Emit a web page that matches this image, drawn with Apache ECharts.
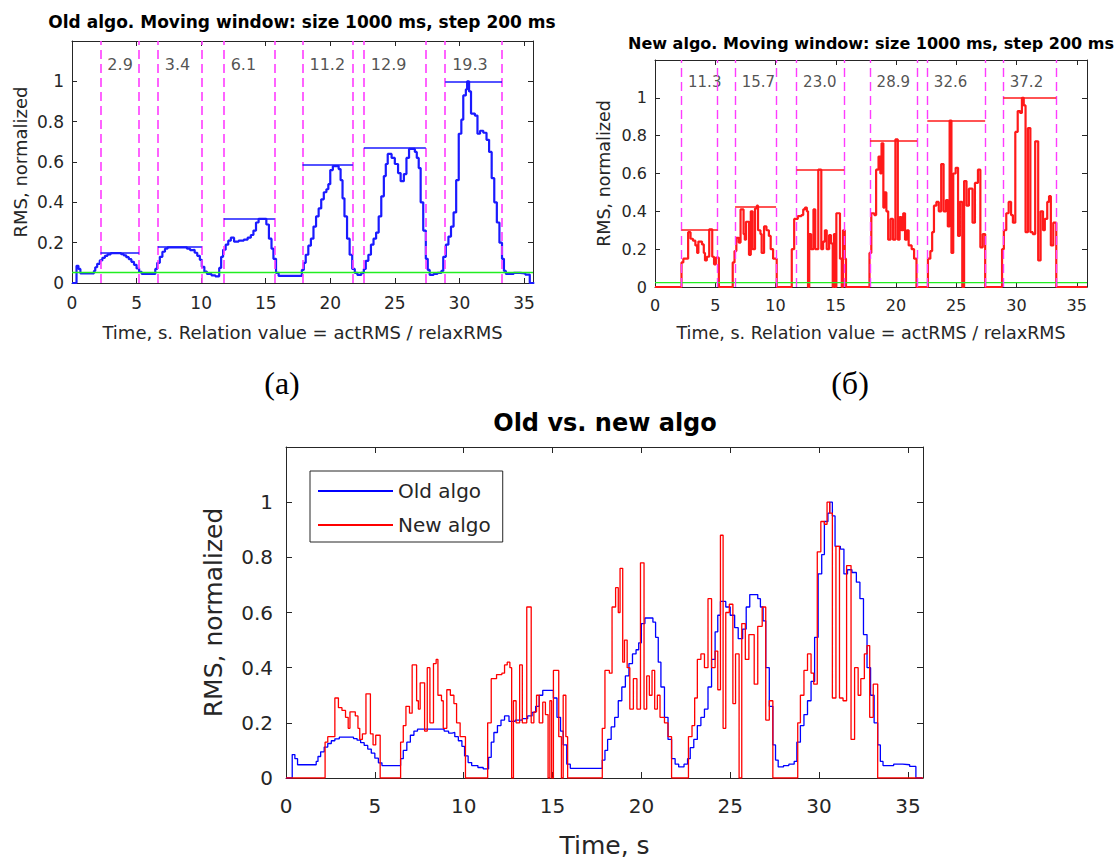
<!DOCTYPE html>
<html><head><meta charset="utf-8">
<script src="https://cdn.jsdelivr.net/npm/echarts@6/dist/echarts.min.js"></script>
<style>html,body{margin:0;padding:0;background:#fff}#c{width:1118px;height:859px}</style>
</head><body><div id="c"></div>
<script>
// ---- data ----
const oldTime = [0,0.35,0.5,0.65,1.7,1.8,1.95,2.15,2.35,2.55,
  2.75,3.0,3.8,4.0,4.2,4.4,4.6,4.8,5.0,5.2,
  5.4,6.45,6.6,6.8,7.0,7.2,7.4,8.9,9.15,9.35,
  9.5,9.7,9.9,10.05,10.25,10.45,10.8,11.1,11.4,11.55,
  11.7,11.9,12.1,12.3,12.55,12.9,13.3,13.6,13.85,14.05,
  14.25,14.45,15.05,15.25,15.45,15.6,15.8,16.0,17.8,17.95,
  18.1,18.3,18.5,18.7,18.9,19.1,19.3,19.5,19.7,19.85,
  20.0,20.2,20.65,20.8,20.95,21.1,21.3,21.5,21.7,21.9,
  22.1,22.4,22.6,22.75,22.95,23.15,23.35,23.55,23.75,23.95,
  24.15,24.3,24.45,24.75,25.0,25.25,25.45,25.7,25.9,26.1,
  26.55,26.7,26.85,27.0,27.2,27.4,27.55,27.7,28.0,28.3,
  28.6,28.75,28.95,29.15,29.35,29.55,29.75,29.95,30.15,30.3,
  30.5,30.6,30.75,30.9,31.2,31.4,31.6,31.85,32.1,32.3,
  32.5,32.7,32.9,33.1,33.3,33.45,33.6,34.2,34.7,35.1,
  35.45,35.8];
const oldRms = [0,0.085,0.07,0.048,0.06,0.078,0.095,0.112,0.125,0.135,
  0.142,0.148,0.143,0.137,0.128,0.118,0.105,0.09,0.072,0.055,
  0.045,0.07,0.1,0.13,0.155,0.17,0.177,0.17,0.163,0.165,
  0.15,0.135,0.115,0.08,0.056,0.045,0.038,0.033,0.075,0.13,
  0.165,0.19,0.21,0.225,0.205,0.21,0.215,0.225,0.238,0.26,
  0.3,0.318,0.29,0.22,0.17,0.12,0.05,0.035,0.065,0.1,
  0.14,0.185,0.22,0.28,0.33,0.37,0.415,0.45,0.465,0.49,
  0.56,0.58,0.565,0.51,0.42,0.33,0.22,0.14,0.07,0.05,
  0.04,0.05,0.07,0.11,0.14,0.19,0.22,0.25,0.33,0.43,
  0.53,0.59,0.64,0.62,0.59,0.545,0.505,0.54,0.62,0.665,
  0.65,0.62,0.57,0.4,0.26,0.12,0.065,0.04,0.045,0.05,
  0.06,0.13,0.19,0.23,0.28,0.35,0.51,0.74,0.81,0.93,
  0.96,1.0,0.95,0.84,0.83,0.74,0.755,0.745,0.71,0.65,
  0.52,0.4,0.3,0.2,0.12,0.06,0.045,0.05,0.048,0.042,
  0,0];
const newTime = [0,
  2.2,2.35,2.75,2.95,3.15,3.35,3.5,3.6,3.9,4.05,4.15,4.3,4.5,4.75,4.9,5.05,5.3,
  6.45,6.6,6.75,6.95,7.1,7.35,7.45,7.55,7.8,7.95,8.1,8.3,8.45,8.55,8.75,8.85,9.05,9.25,9.45,9.6,9.8,10.1,
  11.35,11.55,11.85,12.15,12.3,12.45,12.6,12.7,12.8,12.95,13.15,13.3,13.55,13.8,13.95,14.1,14.25,14.45,14.6,14.75,14.85,14.95,15.05,15.35,15.5,15.6,15.75,15.85,
  17.8,17.95,18.2,18.35,18.55,18.7,18.8,18.95,19.05,19.2,19.35,19.55,19.75,19.95,20.15,20.3,20.45,20.6,20.75,20.9,21.05,21.3,21.5,21.7,
  22.65,22.85,23.0,23.15,23.35,23.55,23.75,23.95,24.15,24.3,24.45,24.6,24.75,24.95,25.15,25.3,25.5,25.65,25.85,26.05,26.35,26.55,26.8,27.0,27.2,27.4,
  28.8,28.95,29.15,29.35,29.55,29.7,29.9,30.1,30.3,30.45,30.6,30.75,30.95,31.15,31.35,31.55,31.8,32.0,32.2,32.35,32.55,32.7,32.85,33.05,33.3,
  35.85];
const newRms = [0,
  0.13,0.15,0.29,0.255,0.245,0.22,0.18,0.24,0.225,0.18,0.14,0.16,0.305,0.16,0.12,0.155,0,
  0.13,0.19,0.26,0.235,0.41,0.28,0.25,0.345,0.17,0.4,0.2,0.415,0.43,0.3,0.28,0.18,0.32,0.3,0.27,0.2,0.15,0,
  0.2,0.36,0.375,0.38,0.41,0.42,0.4,0,0.28,0.2,0.41,0.2,0.62,0.2,0.24,0.3,0.2,0.275,0.23,0,0.28,0,0.39,0.15,0,0.3,0.15,0,
  0.18,0.39,0.38,0.62,0.69,0.6,0.76,0.42,0.5,0.4,0.25,0.36,0.25,0.78,0.25,0.37,0.3,0.39,0.25,0.3,0.22,0.2,0.15,0,
  0.15,0.19,0.29,0.43,0.45,0.4,0.65,0.4,0.46,0.32,0.88,0.18,0.6,0.63,0.27,0.45,0,0.56,0.43,0.52,0.34,0.55,0.62,0.21,0.28,0,
  0.2,0.3,0.39,0.45,0.38,0.34,0.82,0.93,0.92,1.0,0.96,0.29,0.84,0.29,0.28,0.77,0.14,0.4,0.3,0.36,0.45,0.48,0.22,0.34,0,
  0];
const segBounds = [2.2,5.2,6.65,10.05,11.75,15.7,17.85,21.75,22.6,27.4,28.9,33.3];
const oldSegMax = [0.149,0.182,0.319,0.585,0.673,1.0];
const newSegMax = [0.302,0.425,0.618,0.775,0.877,1.0];
const oldRatio = ['2.9','3.4','6.1','11.2','12.9','19.3'];
const newRatio = ['11.3','15.7','23.0','28.9','32.6','37.2'];
const oldThreshold = 0.052;
const newThreshold = 0.023;
const ratioLabelY = 1.085;

// ---- chart ----
const FONT = 'DejaVu Sans';
const AX = '#262626';
const chart = echarts.init(document.getElementById('c'), null, {renderer:'svg'});
const grid = [], xAxis = [], yAxis = [], series = [];

function addPanel(g, xmax, o){
  const gi = grid.length;
  grid.push(g);
  const line = {show:true, onZero:false, lineStyle:{color:AX, width:1}};
  const tick = {show:true, inside:true, length:o.tick, lineStyle:{color:AX, width:1}};
  const nameStyle = {fontFamily:FONT, fontSize:o.nameFs, color:AX};
  xAxis.push({gridIndex:gi, type:'value', min:0, max:xmax, interval:5, position:'bottom',
    axisLine:line, axisTick:tick, splitLine:{show:false},
    axisLabel:{fontFamily:FONT, fontSize:o.fs, color:AX, margin:o.xm,
      formatter:v => Math.abs(v % 5) < 1e-6 ? String(v) : ''},
    name:o.xName, nameLocation:'middle', nameGap:o.xGap, nameTextStyle:nameStyle});
  xAxis.push({gridIndex:gi, type:'value', min:0, max:xmax, interval:5, position:'top',
    axisLine:line, axisTick:tick, splitLine:{show:false}, axisLabel:{show:false}});
  yAxis.push({gridIndex:gi, type:'value', min:0, max:1.2, interval:0.2, position:'left',
    axisLine:line, axisTick:tick, splitLine:{show:false},
    axisLabel:{fontFamily:FONT, fontSize:o.fs, color:AX, margin:o.ym,
      formatter:v => v > 1.001 ? '' : String(Math.round(v*10)/10)},
    name:o.yName, nameLocation:'middle', nameGap:o.yGap, nameTextStyle:nameStyle});
  yAxis.push({gridIndex:gi, type:'value', min:0, max:1.2, interval:0.2, position:'right',
    axisLine:line, axisTick:tick, splitLine:{show:false}, axisLabel:{show:false}});
  return 2*gi;
}

function topPanel(ai, key, times, vals, color, segMax, ratios, thr, xmax, o){
  const data = times.map((t,i)=>[t, vals[i]]);
  series.push({
    type:'scatter', name:key+'-ratio', xAxisIndex:ai, yAxisIndex:ai, z:1, silent:true,
    symbolSize:1, itemStyle:{color:'rgba(0,0,0,0)'},
    data: ratios.map((r,i)=>[segBounds[2*i]+0.5, ratioLabelY, r]),
    label:{show:true, position:'right', distance:0, color:AX, fontFamily:FONT, fontSize:o.labFs,
      formatter:p => p.value[2]},
    markLine:{silent:true, symbol:['none','none'], label:{show:false},
      lineStyle:{color:'#ff3cff', type:[9,5], width:o.dashW},
      data: segBounds.map(b=>({xAxis:b}))}
  });
  series.push({
    type:'line', name:key+'-signal', xAxisIndex:ai, yAxisIndex:ai, z:2, step:'end',
    showSymbol:false, symbol:'none', data, color,
    lineStyle:{color, width:o.lw},
    markLine:{silent:true, symbol:['none','none'], label:{show:false},
      lineStyle:{color, type:'solid', width:1.5},
      data: segMax.map((m,i)=>[{coord:[segBounds[2*i], m]},{coord:[segBounds[2*i+1], m]}])}
  });
  series.push({
    type:'line', name:key+'-thr', xAxisIndex:ai, yAxisIndex:ai, z:3, symbol:'none',
    data:[[0,thr],[xmax,thr]], color:'#22ee22', lineStyle:{color:'#22ee22', width:1.3}
  });
}

const XNAME = 'Time, s. Relation value = actRMS / relaxRMS';
const a0 = addPanel({left:72, top:41, width:461, height:242}, 35.7,
  {fs:17, nameFs:18, xm:11, ym:8, tick:5, xName:XNAME, xGap:40, yName:'RMS, normalized', yGap:43});
const a1 = addPanel({left:655, top:60, width:432, height:227}, 35.85,
  {fs:16, nameFs:17.5, xm:10, ym:8, tick:5, xName:XNAME, xGap:37, yName:'RMS, normalized', yGap:42});
const a2 = addPanel({left:286, top:447, width:637, height:332}, 35.85,
  {fs:20, nameFs:25, xm:18, ym:13, tick:6, xName:'Time, s', xGap:55, yName:'RMS, normalized', yGap:60});

topPanel(a0, 'old', oldTime, oldRms, '#1a1aff', oldSegMax, oldRatio, oldThreshold, 35.7,
  {lw:2.2, labFs:16, dashW:1.6});
topPanel(a1, 'new', newTime, newRms, '#ff1a1a', newSegMax, newRatio, newThreshold, 35.85,
  {lw:2.2, labFs:15, dashW:1.4});

series.push({type:'line', name:'Old algo', xAxisIndex:a2, yAxisIndex:a2, step:'end', symbol:'none',
  color:'#0000ff', itemStyle:{color:'#0000ff'},
  data: oldTime.map((t,i)=>[t, oldRms[i]]), lineStyle:{color:'#0000ff', width:1.3}, z:2});
series.push({type:'line', name:'New algo', xAxisIndex:a2, yAxisIndex:a2, step:'end', symbol:'none',
  color:'#ff0000', itemStyle:{color:'#ff0000'},
  data: newTime.map((t,i)=>[t, newRms[i]]), lineStyle:{color:'#ff0000', width:1.3}, z:3});

const txt = (x, y, text, font, fill) => ({type:'text', x, y, silent:true,
  style:{text, font, fill, align:'center', verticalAlign:'middle'}});

chart.setOption({
  animation:false,
  backgroundColor:'#ffffff',
  grid, xAxis, yAxis, series,
  legend:{data:[{name:'Old algo', itemStyle:{color:'#0000ff'}}, {name:'New algo', itemStyle:{color:'#ff0000'}}],
    orient:'vertical', left:310, top:471,
    icon:'rect', itemWidth:75, itemHeight:2, itemGap:14, padding:[10,12,7,8],
    borderColor:AX, borderWidth:1, backgroundColor:'#ffffff', selectedMode:false,
    textStyle:{fontFamily:FONT, fontSize:20, color:AX}},
  graphic:[
    txt(302, 22, 'Old algo. Moving window: size 1000 ms, step 200 ms', 'bold 17px "DejaVu Sans"', '#000'),
    txt(871, 43, 'New algo. Moving window: size 1000 ms, step 200 ms', 'bold 16px "DejaVu Sans"', '#000'),
    txt(605, 423, 'Old vs. new algo', 'bold 24px "DejaVu Sans"', '#000'),
    txt(282, 383, '(а)', '32px "Liberation Serif"', '#000'),
    txt(850, 383, '(б)', '32px "Liberation Serif"', '#000')
  ]
});
</script></body></html>
